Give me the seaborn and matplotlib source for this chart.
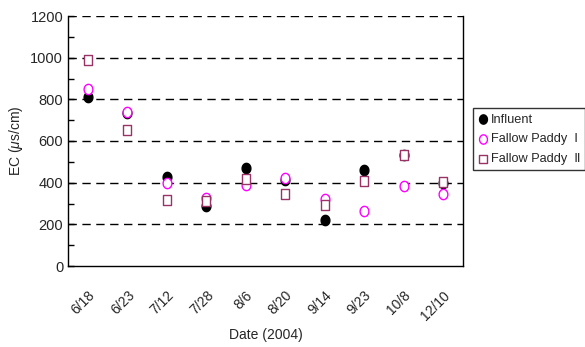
import matplotlib
matplotlib.use("Agg")
import matplotlib.pyplot as plt
import matplotlib.transforms as mtransforms
from matplotlib.path import Path
import seaborn as sns
import pandas as pd
import numpy as np

dates = ["6/18", "6/23", "7/12", "7/28", "8/6", "8/20", "9/14", "9/23", "10/8", "12/10"]
influent = [811, 735, 425, 288, 469, 415, 221, 461, 535, 400]
fallow_1 = [852, 739, 397, 325, 387, 421, 322, 264, 386, 346]
fallow_2 = [987, 653, 317, 313, 420, 344, 293, 410, 533, 405]
yticks = [0, 200, 400, 600, 800, 1000, 1200]

sns.set_theme(style="white")
plt.rcParams["font.family"] = ["Liberation Sans", "DejaVu Sans"]
plt.rcParams["mathtext.fontset"] = "custom"
plt.rcParams["mathtext.it"] = "Liberation Sans:italic"
plt.rcParams["mathtext.rm"] = "Liberation Sans"

# slightly tall (elliptic) markers as in the reference
t = np.linspace(0, 2 * np.pi, 60)
ellipse = Path(np.column_stack([0.85 * np.cos(t), np.sin(t)]), closed=True)
rect = Path([(-0.9, -1), (0.9, -1), (0.9, 1), (-0.9, 1), (-0.9, -1)], closed=True)

fig = plt.figure(figsize=(5.85, 3.47), dpi=100)
ax = fig.add_axes([68/585, 1-266/347, 395/585, 250/347])

df = pd.DataFrame({"Date": dates, "Influent": influent,
                   "F1": fallow_1, "F2": fallow_2})

sns.scatterplot(data=df, x="Date", y="Influent", ax=ax, marker=ellipse, s=55,
                facecolor="black", edgecolor="black", linewidth=1,
                label="Influent", zorder=3)
sns.scatterplot(data=df, x="Date", y="F1", ax=ax, marker=ellipse, s=55,
                facecolor="white", edgecolor="#FF00FF", linewidth=1,
                label="Fallow Paddy  Ⅰ", zorder=4)
sns.scatterplot(data=df, x="Date", y="F2", ax=ax, marker=rect, s=50,
                facecolor="white", edgecolor="#993366", linewidth=1,
                label="Fallow Paddy  Ⅱ", zorder=5)

ax.set_xlim(-0.5, len(dates) - 0.5)
ax.set_ylim(0, 1200)
ax.set_yticks(yticks)
ax.set_yticks(np.arange(100, 1200, 200), minor=True)
ax.set_xticks(range(len(dates)))
ax.set_xticklabels(dates, rotation=45, ha="right", rotation_mode="anchor", fontsize=10)
offset = mtransforms.ScaledTranslation(-8/100, 0, fig.dpi_scale_trans)
for lbl in ax.get_xticklabels():
    lbl.set_transform(lbl.get_transform() + offset)
ax.set_xticks(np.arange(0.5, len(dates) - 0.5, 1), minor=True)
ax.tick_params(axis="x", which="major", length=0, pad=16)
ax.tick_params(axis="x", which="minor", length=4, direction="in", width=1, color="black")
ax.tick_params(axis="y", which="both", length=4, direction="in", width=1, color="black",
               labelsize=10.5, left=True)

for yv in yticks[1:]:
    ax.axhline(yv, color="black", linestyle=(0, (6, 4)), linewidth=1, zorder=1)

for side in ["left", "bottom", "right"]:
    ax.spines[side].set_visible(True)
    ax.spines[side].set_color("black")
    ax.spines[side].set_linewidth(1)
ax.spines["top"].set_visible(False)

ax.set_xlabel("Date (2004)", fontsize=10, labelpad=4)
ax.set_ylabel("EC ($\\mu$s/cm)", fontsize=10, labelpad=4)

leg = ax.legend(loc="upper left", bbox_to_anchor=(1.025, 0.63), frameon=True,
                fancybox=False, edgecolor="black", fontsize=9.2, borderpad=0.4,
                handletextpad=0.2, handlelength=0.8, labelspacing=0.6,
                borderaxespad=0, markerscale=0.9)
leg.get_frame().set_linewidth(1)

fig.savefig("out.png", dpi=100)
